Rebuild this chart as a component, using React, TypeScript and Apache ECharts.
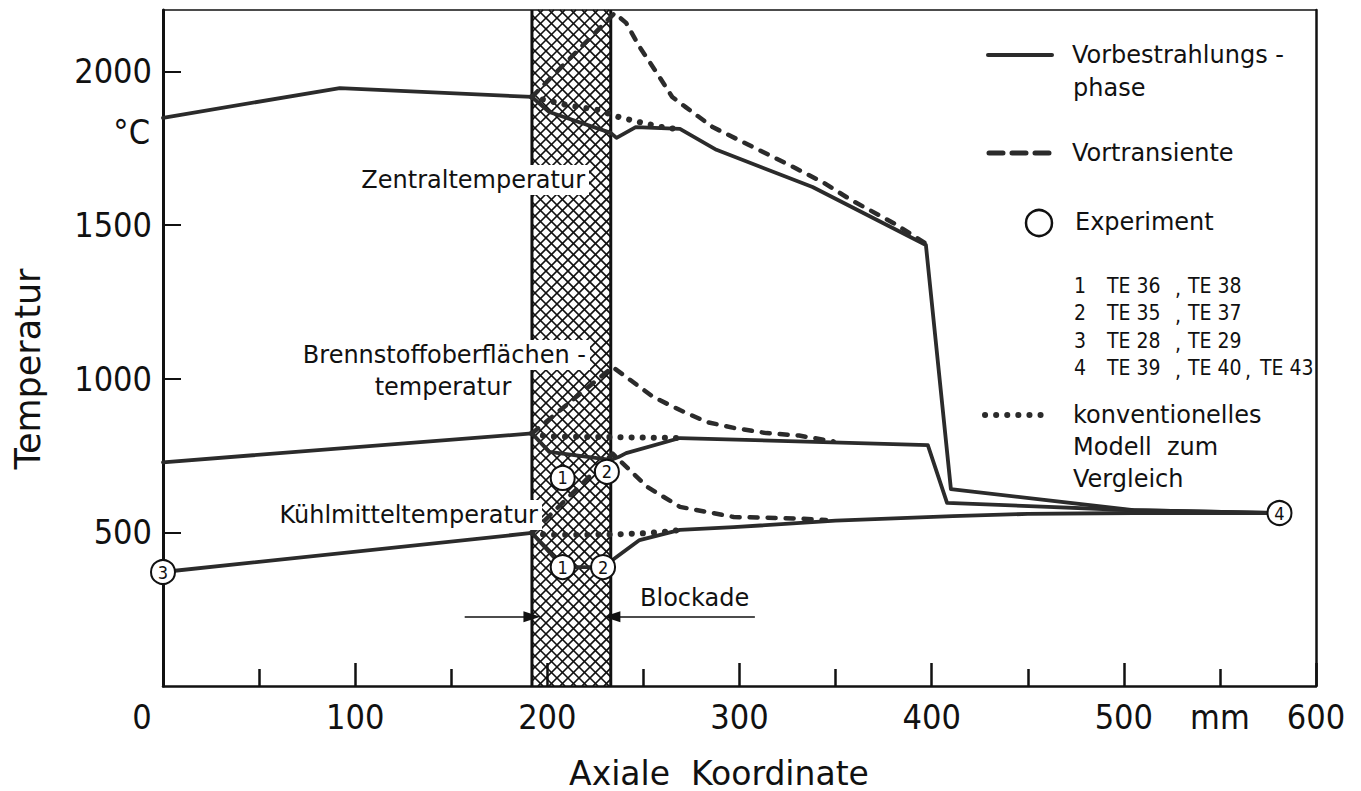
import React, { useEffect, useRef } from "react";
import * as echarts from "echarts";

// Axis ranges and tick labels
const xRange = [0, 600];
const yRange = [0, 2200];
const xLabelValues = [0, 100, 200, 300, 400, 500, 550, 600];
const yLabelValues = [500, 1000, 1500, 2000];
const blockade = [192, 233];

// Zentraltemperatur [mm, °C]
const centralPre = [[0, 1849], [92, 1946], [192, 1917], [201, 1868], [233, 1800], [236, 1784], [246, 1819], [269, 1813], [288, 1745], [338, 1624], [397, 1435], [410, 641], [505, 572], [581, 563]];
const centralTrans = [[192, 1917], [235, 2190], [241, 2158], [248, 2080], [257, 1995], [265, 1917], [272, 1884], [286, 1819], [307, 1754], [328, 1689], [344, 1637], [358, 1582], [380, 1507], [397, 1440]];
const centralConv = [[192, 1917], [210, 1891], [226, 1875], [237, 1852], [250, 1832], [262, 1816], [269, 1813]];

// Brennstoffoberflächentemperatur
const fuelPre = [[0, 728], [192, 822], [201, 762], [233, 736], [237, 745], [241, 758], [269, 807], [398, 784], [408, 596], [505, 572], [581, 563]];
const fuelTrans = [[192, 822], [234, 1038], [241, 1006], [255, 941], [269, 898], [283, 859], [297, 840], [314, 823], [331, 815], [349, 796]];
const fuelConv = [[192, 822], [200, 812], [233, 810], [269, 807]];

// Kühlmitteltemperatur
const coolPre = [[0, 371], [192, 498], [208, 387], [229, 387], [236, 420], [248, 475], [269, 508], [297, 517], [350, 538], [411, 553], [450, 560], [505, 563], [581, 563]];
const coolTrans = [[192, 498], [234, 756], [252, 648], [269, 583], [297, 550], [331, 545], [345, 540]];
const coolConv = [[192, 498], [200, 492], [233, 493], [250, 497], [262, 502], [269, 508]];

// Thermoelement readings
const experimentNames = ["1", "2", "1", "2", "3", "4"];
const experimentValues = [[208, 677], [231, 697], [208, 387], [229, 387], [0, 371], [581, 563]];

// Legend thermocouple list
const teRows = [
  ["1", "TE 36", "TE 38"],
  ["2", "TE 35", "TE 37"],
  ["3", "TE 28", "TE 29"],
  ["4", "TE 39", "TE 40", "TE 43"],
];

// Blockade arrow levels [from mm, to mm, °C]
const blockadeArrows = [[157, 192, 225], [308, 233.6, 225]];

const INK = "#111";
const LINE = "#2b2b2b";
const SANS = '"DejaVu Sans", "Liberation Sans", sans-serif';
const COND = '"DejaVu Sans Condensed", "Liberation Sans Narrow", "DejaVu Sans", sans-serif';

const GRID = { left: 163, right: 45, top: 10, bottom: 105 };
const W = 1361;
const H = 791;

const solidStyle = { color: LINE, width: 3.8, cap: "round", join: "round" };
const dashStyle = { color: LINE, width: 4.5, type: [8, 10], cap: "round", join: "round" };
const dotStyle = { color: LINE, width: 6, type: [0.1, 11], cap: "round", join: "round" };

function lineSeries(name: string, data: number[][], style: any) {
  return {
    type: "line",
    name,
    data,
    symbol: "none",
    showSymbol: false,
    lineStyle: style,
    z: 3,
    silent: true,
  };
}

function txt(x: number, y: number, text: string, o: any = {}) {
  const align = o.align || "left";
  const va = o.va || "middle";
  return {
    type: "text",
    x,
    y,
    z: 20,
    rotation: o.rotation || 0,
    style: {
      text,
      x: 0,
      y: 0,
      fill: INK,
      fontSize: o.size || 24,
      fontFamily: o.family || SANS,
      align,
      textAlign: align,
      verticalAlign: va,
      textVerticalAlign: va,
      backgroundColor: o.bg,
      padding: o.bg ? [3, 4] : undefined,
    },
  };
}

// Cross-hatched blockade zone, clipped to its own rectangle
function hatchItem(params: any, api: any) {
  const a = api.coord([api.value(0), yRange[1]]);
  const b = api.coord([api.value(1), yRange[0]]);
  const x0 = a[0], y0 = a[1], x1 = b[0], y1 = b[1];
  const h = y1 - y0;
  const step = 11;
  const children: any[] = [];
  const st = { stroke: INK, lineWidth: 1.7 };
  for (let c = x0 - h; c <= x1; c += step) {
    const t0 = Math.max(0, x0 - c);
    const t1 = Math.min(h, x1 - c);
    if (t1 > t0) children.push({ type: "line", shape: { x1: c + t0, y1: y0 + t0, x2: c + t1, y2: y0 + t1 }, style: st });
  }
  for (let c = x0; c <= x1 + h; c += step) {
    const t0 = Math.max(0, c - x1);
    const t1 = Math.min(h, c - x0);
    if (t1 > t0) children.push({ type: "line", shape: { x1: c - t0, y1: y0 + t0, x2: c - t1, y2: y0 + t1 }, style: st });
  }
  const edge = { stroke: INK, lineWidth: 3 };
  children.push({ type: "line", shape: { x1: x0, y1: y0, x2: x0, y2: y1 }, style: edge });
  children.push({ type: "line", shape: { x1: x1, y1: y0, x2: x1, y2: y1 }, style: edge });
  return { type: "group", children };
}

function buildGraphic() {
  const g: any[] = [];
  // legend
  g.push({ type: "line", z: 20, shape: { x1: 988, y1: 55, x2: 1052, y2: 55 }, style: { stroke: LINE, lineWidth: 4, lineCap: "round" } });
  g.push(txt(1072, 55, "Vorbestrahlungs -"));
  g.push(txt(1073, 88, "phase"));
  g.push({ type: "line", z: 20, shape: { x1: 989, y1: 153, x2: 1050, y2: 153 }, style: { stroke: LINE, lineWidth: 5, lineDash: [14, 9], lineCap: "round" } });
  g.push(txt(1072, 153, "Vortransiente"));
  g.push({ type: "circle", z: 20, shape: { cx: 1039, cy: 223, r: 13 }, style: { fill: "#fff", stroke: INK, lineWidth: 2.5 } });
  g.push(txt(1075, 222, "Experiment"));
  teRows.forEach((row, i) => {
    const y = 286 + i * 27.3;
    g.push(txt(1080, y, row[0], { size: 21, family: COND, align: "center" }));
    g.push(txt(1107, y, row[1], { size: 21, family: COND }));
    g.push(txt(1175, y + 3, ",", { size: 21, family: COND }));
    g.push(txt(1188, y, row[2], { size: 21, family: COND }));
    if (row[3]) {
      g.push(txt(1245, y + 3, ",", { size: 21, family: COND }));
      g.push(txt(1260, y, row[3], { size: 21, family: COND }));
    }
  });
  g.push({ type: "line", z: 20, shape: { x1: 985, y1: 415, x2: 1050, y2: 415 }, style: { stroke: LINE, lineWidth: 6, lineDash: [0.1, 11], lineCap: "round" } });
  g.push(txt(1073, 415, "konventionelles"));
  g.push(txt(1073, 447, "Modell  zum"));
  g.push(txt(1073, 479, "Vergleich"));

  // curve annotations
  g.push(txt(589, 180, "Zentraltemperatur", { align: "right", bg: "#fff" }));
  g.push(txt(590, 355, "Brennstoffoberflächen -", { align: "right", bg: "#fff" }));
  g.push(txt(443, 387, "temperatur", { align: "center" }));
  g.push(txt(542, 515, "Kühlmitteltemperatur", { align: "right", bg: "#fff" }));
  g.push(txt(640, 598, "Blockade"));

  // axis titles and unit
  g.push(txt(150, 132, "°C", { align: "right", size: 34, family: COND }));
  g.push(txt(28, 369, "Temperatur", { align: "center", size: 35, rotation: Math.PI / 2 }));
  g.push(txt(719, 773, "Axiale  Koordinate", { align: "center", size: 33 }));
  return g;
}

export default function App() {
  const ref = useRef<HTMLDivElement>(null);

  useEffect(() => {
    if (!ref.current) return;
    const chart = echarts.init(ref.current, undefined, { renderer: "svg" });

    const axisInk = { color: INK };
    const option: any = {
      animation: false,
      backgroundColor: "#fff",
      grid: { ...GRID, containLabel: false, outerBoundsMode: "none" },
      xAxis: [
        {
          type: "value",
          min: xRange[0],
          max: xRange[1],
          interval: 100,
          position: "bottom",
          axisLine: { show: true, onZero: false, lineStyle: { ...axisInk, width: 2.5 } },
          axisTick: { show: true, inside: true, length: 23, lineStyle: { ...axisInk, width: 2.5 } },
          minorTick: { show: true, splitNumber: 2, length: 17, lineStyle: { ...axisInk, width: 2.5 } },
          splitLine: { show: false },
          minorSplitLine: { show: false },
          axisLabel: {
            customValues: xLabelValues,
            margin: 14,
            color: INK,
            fontSize: 34,
            fontFamily: COND,
            formatter: (v: number) => (v === 0 ? "{z|0}" : v === 550 ? "mm" : String(v)),
            rich: { z: { padding: [0, 42, 0, 0], fontSize: 34, fontFamily: COND, color: INK } },
          },
        },
        {
          type: "value",
          min: xRange[0],
          max: xRange[1],
          position: "top",
          axisLine: { show: true, onZero: false, lineStyle: { ...axisInk, width: 1.5 } },
          axisTick: { show: false },
          axisLabel: { show: false },
          splitLine: { show: false },
        },
      ],
      yAxis: [
        {
          type: "value",
          min: yRange[0],
          max: yRange[1],
          interval: 500,
          axisLine: { show: true, onZero: false, lineStyle: { ...axisInk, width: 3 } },
          axisTick: { show: true, inside: true, length: 18, customValues: yLabelValues, lineStyle: { ...axisInk, width: 2 } },
          splitLine: { show: false },
          axisLabel: {
            showMaxLabel: false,
            margin: 11,
            color: INK,
            fontSize: 34,
            fontFamily: COND,
            formatter: (v: number) => (yLabelValues.includes(v) ? String(v) : ""),
          },
        },
        {
          type: "value",
          min: yRange[0],
          max: yRange[1],
          position: "right",
          axisLine: { show: true, onZero: false, lineStyle: { ...axisInk, width: 2.5 } },
          axisTick: { show: false },
          axisLabel: { show: false },
          splitLine: { show: false },
        },
      ],
      series: [
        {
          type: "custom",
          name: "Blockade",
          data: [blockade],
          renderItem: hatchItem,
          z: 1,
          silent: true,
          clip: false,
          markLine: {
            silent: true,
            symbol: ["none", "triangle"],
            symbolSize: [11, 17],
            label: { show: false },
            lineStyle: { color: INK, width: 1.5, type: "solid" },
            data: blockadeArrows.map((a) => [{ coord: [a[0], a[2]] }, { coord: [a[1], a[2]] }]),
          },
        },
        lineSeries("Zentral Vorbestrahlung", centralPre, solidStyle),
        lineSeries("Zentral Vortransiente", centralTrans, dashStyle),
        lineSeries("Zentral konventionell", centralConv, dotStyle),
        lineSeries("Oberfläche Vorbestrahlung", fuelPre, solidStyle),
        lineSeries("Oberfläche Vortransiente", fuelTrans, dashStyle),
        lineSeries("Oberfläche konventionell", fuelConv, dotStyle),
        lineSeries("Kühlmittel Vorbestrahlung", coolPre, solidStyle),
        lineSeries("Kühlmittel Vortransiente", coolTrans, dashStyle),
        lineSeries("Kühlmittel konventionell", coolConv, dotStyle),
        {
          type: "scatter",
          name: "Experiment",
          data: experimentValues.map((v, i) => ({ name: experimentNames[i], value: v })),
          symbol: "circle",
          symbolSize: 24,
          clip: false,
          z: 6,
          silent: true,
          itemStyle: { color: "#fff", borderColor: INK, borderWidth: 2, opacity: 1 },
          label: {
            show: true,
            position: "inside",
            formatter: "{b}",
            color: INK,
            fontSize: 18,
            fontFamily: COND,
          },
        },
      ],
      graphic: { elements: buildGraphic() },
    };

    chart.setOption(option);
    return () => chart.dispose();
  }, []);

  return (
    <div
      ref={ref}
      style={{ position: "absolute", left: 0, top: 0, width: W, height: H, background: "#fff" }}
    />
  );
}
